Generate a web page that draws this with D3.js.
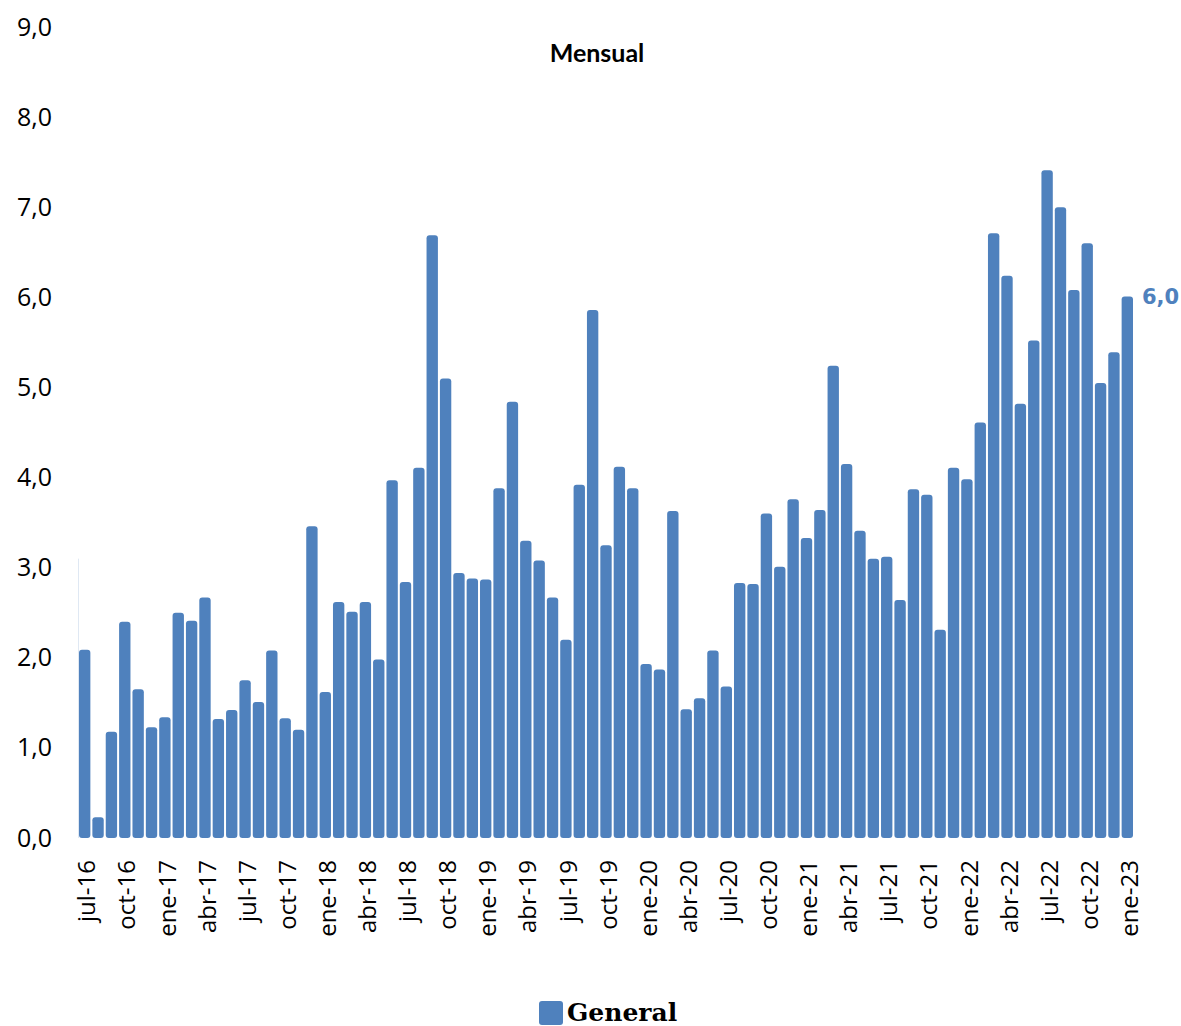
<!DOCTYPE html>
<html>
<head>
<meta charset="utf-8">
<script src="https://cdn.jsdelivr.net/npm/d3@7/dist/d3.min.js"></script>
<style>
  html, body { margin: 0; padding: 0; background: #fff; }
  svg { display: block; }
</style>
</head>
<body>
<script>
// ---- Data ----
const monthNames = ["ene","feb","mar","abr","may","jun","jul","ago","sep","oct","nov","dic"];
const months = [];
for (let y = 2016, m = 6; !(y === 2023 && m === 1); ) {
  months.push(monthNames[m] + "-" + String(y).slice(2));
  m++; if (m === 12) { m = 0; y++; }
}
const values = [
  2.09, 0.23, 1.18, 2.40, 1.65, 1.23,            // jul-16 .. dic-16
  1.34, 2.50, 2.41, 2.67, 1.32, 1.42, 1.75, 1.51, 2.08, 1.33, 1.20, 3.46, // 2017
  1.62, 2.62, 2.51, 2.62, 1.98, 3.97, 2.84, 4.11, 6.69, 5.10, 2.94, 2.88, // 2018
  2.87, 3.88, 4.84, 3.30, 3.08, 2.67, 2.20, 3.92, 5.86, 3.25, 4.12, 3.88, // 2019
  1.93, 1.87, 3.63, 1.43, 1.55, 2.08, 1.68, 2.83, 2.82, 3.60, 3.01, 3.76, // 2020
  3.33, 3.64, 5.24, 4.15, 3.41, 3.10, 3.12, 2.64, 3.87, 3.81, 2.31, 4.11, // 2021
  3.98, 4.61, 6.71, 6.24, 4.82, 5.52, 7.41, 7.00, 6.08, 6.60, 5.05, 5.39, // 2022
  6.01                                             // ene-23
];
const tickLabels = ["jul-16","oct-16","ene-17","abr-17","jul-17","oct-17","ene-18","abr-18","jul-18",
  "oct-18","ene-19","abr-19","jul-19","oct-19","ene-20","abr-20","jul-20","oct-20","ene-21","abr-21",
  "jul-21","oct-21","ene-22","abr-22","jul-22","oct-22","ene-23"];
const yTicks = [0,1,2,3,4,5,6,7,8,9];
const seriesName = "General";
const title = "Mensual";
const lastLabel = "6,0";

// ---- Chart ----
const W = 1181, H = 1026;
const color = "#4F81BD";
const svg = d3.select("body").append("svg").attr("width", W).attr("height", H);

const y = d3.scaleLinear().domain([0, 9]).range([838, 27]);
const x = d3.scaleBand().domain(months).range([78, 1134]).paddingInner(0.15).paddingOuter(0.075);

// faint axis line
svg.append("line").attr("x1", 78.5).attr("x2", 78.5).attr("y1", y(3.1)).attr("y2", y(0))
  .attr("stroke", "#dfe8f3").attr("stroke-width", 1);

// y axis labels
const yAxis = d3.axisLeft(y).tickValues(yTicks).tickSize(0).tickPadding(0)
  .tickFormat(d => d3.format(".1f")(d).replace(".", ","));
const gy = svg.append("g").attr("transform", "translate(52,0)").call(yAxis);
gy.select(".domain").remove();
gy.selectAll("text").attr("font-family", "Open Sans").attr("font-size", 25).attr("fill", "#000");

// bars
svg.append("g").selectAll("rect").data(values).join("rect")
  .attr("x", (d, i) => x(months[i]))
  .attr("width", x.bandwidth())
  .attr("y", d => y(d))
  .attr("height", d => y(0) - y(d))
  .attr("rx", 3).attr("ry", 3)
  .attr("fill", color);

// x axis labels
const xAxis = d3.axisBottom(x).tickValues(tickLabels).tickSize(0).tickPadding(0);
const gx = svg.append("g").attr("transform", "translate(0,860)").call(xAxis);
gx.select(".domain").remove();
gx.selectAll("text")
  .attr("font-family", "Open Sans").attr("font-size", 24).attr("fill", "#000")
  .attr("text-anchor", "end")
  .attr("transform", "rotate(-90)")
  .attr("x", 0).attr("y", 2).attr("dy", "0.36em");

// last value label
svg.append("text")
  .attr("x", x(months[months.length - 1]) + x.bandwidth() + 9)
  .attr("y", y(values[values.length - 1]) + 8)
  .attr("font-family", "DejaVu Sans").attr("font-weight", "bold").attr("font-size", 21)
  .attr("fill", color).text(lastLabel);

// title
svg.append("text").attr("x", 597).attr("y", 62).attr("text-anchor", "middle")
  .attr("font-family", "Lato").attr("font-weight", "bold").attr("font-size", 25)
  .attr("fill", "#000").text(title);

// legend
svg.append("rect").attr("x", 539).attr("y", 1001).attr("width", 24).attr("height", 24)
  .attr("rx", 3).attr("fill", color);
svg.append("text").attr("x", 567).attr("y", 1021)
  .attr("font-family", "DejaVu Serif").attr("font-weight", "bold").attr("font-size", 25)
  .attr("fill", "#000").text(seriesName);
</script>
</body>
</html>
